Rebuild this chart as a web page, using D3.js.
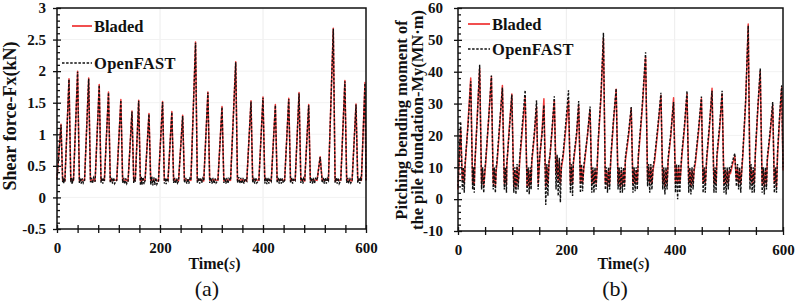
<!DOCTYPE html>
<html><head><meta charset="utf-8">
<script src="https://cdn.jsdelivr.net/npm/d3@7"></script>
<style>
body{margin:0;background:#fff}
svg{display:block}
text{font-family:"Liberation Serif","Times New Roman",serif}
</style>
</head><body>
<svg id="c" width="796" height="306"></svg>
<script>
// ---------- DATA ----------
const seriesNames = ["Bladed", "OpenFAST"];
const panelLabels = ["(a)", "(b)"];

// (a) Shear force Fx (kN) vs time (s)
const bladedFx = [[0,0.30],[7.8,1.16],[11,0.27],[13,0.28],[15.3,0.26],[23.3,1.88],[26.8,0.27],[29.5,0.28],[32,0.27],[40,2.0],[43.5,0.26],[48,0.28],[53.5,0.27],[61.5,1.89],[65,0.27],[70,0.28],[74,0.26],[82,1.79],[85.5,0.27],[89,0.28],[92,0.27],[100,1.67],[103.5,0.26],[110,0.28],[116,0.27],[124,1.55],[127.5,0.27],[133,0.28],[138,0.26],[145.6,1.37],[149,0.27],[152,0.27],[158.6,1.54],[162,0.26],[166,0.28],[171,0.27],[178.6,1.33],[182,0.27],[190,0.28],[197,0.26],[205,1.52],[208.5,0.27],[212,0.28],[215.5,0.27],[223,1.36],[226.5,0.27],[231,0.28],[236,0.26],[244,1.30],[247.5,0.27],[254,0.28],[260,0.27],[269,2.46],[272.5,0.27],[279,0.28],[285,0.26],[293,1.67],[296.5,0.27],[304,0.28],[312.5,0.27],[320.4,1.44],[324,0.26],[330,0.28],[337,0.27],[347,2.15],[350.5,0.27],[359,0.28],[368.5,0.26],[376.7,1.53],[380,0.27],[386,0.28],[392,0.27],[400,1.59],[403.5,0.27],[410,0.28],[416,0.26],[424,1.47],[427.5,0.27],[435,0.28],[442,0.27],[450,1.57],[453.5,0.26],[458,0.28],[462.5,0.27],[470,1.66],[473.5,0.27],[477,0.28],[481,0.26],[488.7,1.47],[492,0.27],[498,0.28],[505,0.27],[511,0.645],[515,0.27],[521,0.28],[527,0.27],[536.5,2.68],[540,0.26],[545.5,0.28],[551,0.27],[559,1.85],[562.5,0.27],[568,0.28],[573,0.26],[580.6,1.48],[584,0.27],[587.5,0.28],[591,0.27],[598,1.82],[600,0.27]];

const openfastFx = [[0,0.28],[7.8,1.15],[11,0.24],[12,0.31],[13,0.22],[14,0.30],[15.3,0.25],[23.3,1.87],[26.8,0.24],[28,0.31],[29.5,0.21],[31,0.30],[32,0.26],[40,1.99],[43.5,0.23],[45,0.31],[47,0.22],[49,0.30],[51,0.23],[53.5,0.27],[61.5,1.88],[65,0.24],[67,0.31],[69,0.22],[71,0.31],[74,0.25],[82,1.78],[85.5,0.23],[87,0.31],[89,0.22],[90.5,0.30],[92,0.26],[100,1.66],[103.5,0.23],[106,0.31],[108,0.22],[110,0.31],[112,0.22],[116,0.27],[124,1.54],[127.5,0.23],[129.5,0.31],[131.5,0.21],[133.5,0.30],[135.5,0.22],[138,0.26],[145.6,1.36],[149,0.23],[150.5,0.30],[152,0.25],[158.6,1.53],[162,0.19],[163.5,0.33],[165,0.20],[167,0.32],[169,0.21],[171,0.27],[178.6,1.32],[182,0.20],[184,0.33],[186,0.19],[188,0.32],[190,0.20],[192,0.31],[194,0.21],[197,0.26],[205,1.51],[208.5,0.22],[210,0.31],[212,0.21],[213.5,0.30],[215.5,0.27],[223,1.35],[226.5,0.23],[228.5,0.31],[230.5,0.22],[232.5,0.30],[234,0.23],[236,0.26],[244,1.29],[247.5,0.23],[250,0.31],[252,0.22],[254,0.30],[256,0.22],[258,0.30],[260,0.27],[269,2.45],[272.5,0.23],[275,0.31],[277,0.22],[279,0.31],[281,0.23],[283,0.30],[285,0.26],[293,1.66],[296.5,0.23],[299,0.31],[301,0.22],[303,0.31],[305,0.22],[307,0.30],[309,0.23],[312.5,0.27],[320.4,1.43],[324,0.23],[326,0.31],[328,0.22],[330,0.31],[332,0.22],[334,0.30],[337,0.27],[347,2.14],[350.5,0.23],[353,0.32],[355,0.22],[357,0.31],[359,0.22],[361,0.31],[363,0.22],[365,0.30],[368.5,0.26],[376.7,1.52],[380,0.23],[382,0.31],[384,0.22],[386,0.31],[388,0.23],[392,0.27],[400,1.58],[403.5,0.22],[405.5,0.32],[407.5,0.21],[409.5,0.31],[411.5,0.22],[413.5,0.30],[416,0.26],[424,1.46],[427.5,0.23],[429.5,0.31],[431.5,0.22],[433.5,0.31],[435.5,0.22],[437.5,0.30],[439.5,0.23],[442,0.27],[450,1.56],[453.5,0.23],[455.5,0.31],[457.5,0.22],[459.5,0.30],[462.5,0.27],[470,1.65],[473.5,0.23],[475.5,0.31],[477.5,0.22],[479,0.30],[481,0.26],[488.7,1.46],[492,0.23],[494,0.31],[496,0.22],[498,0.31],[500,0.22],[502,0.30],[505,0.27],[511,0.64],[515,0.23],[517,0.31],[519,0.22],[521,0.31],[523,0.22],[525,0.30],[527,0.27],[536.5,2.67],[540,0.23],[542,0.31],[544,0.22],[546,0.31],[548,0.22],[551,0.27],[559,1.84],[562.5,0.23],[564.5,0.31],[566.5,0.22],[568.5,0.31],[570.5,0.23],[573,0.26],[580.6,1.47],[584,0.23],[586,0.31],[588,0.22],[589.5,0.30],[591,0.27],[598,1.81],[600,0.27]];

// (b) Pitching bending moment My (MN·m) vs time (s)
const bladedMy = [[0,3],[2,12],[5,22],[8,6],[10,9],[11.5,5],[13,10],[18.5,24],[23.5,38],[27,5],[28.5,9],[30,4.5],[31,10],[35.5,26],[40,41],[43.5,5],[45.5,9],[47.5,4.5],[49.5,8],[51,11],[56.5,25],[61.7,38.5],[65,5],[67,9],[69,4],[70.5,9],[72,11],[77,23],[82,35.7],[85.5,5],[87.5,9],[89.5,4.5],[90,10],[94.5,22],[99.4,33],[103,4],[105,9],[107,4],[109,10],[111,5],[113,9],[114,12],[119,22],[124,32],[127.5,4],[129.5,9],[131.5,4],[133.5,9],[135,5],[136,11],[141,20],[145,29],[148,5],[150,10],[151,13],[155,21],[158.6,31.5],[162,4],[164,10],[166,5],[168,11],[170,14],[174,22],[177.8,31],[181,8],[183,13],[185,6],[187,12],[189,5],[191,10],[194,13],[199,22],[204,31],[207.5,5],[209.5,10],[211.5,5],[213,11],[215,14],[219,20],[222.8,29.5],[226,5],[228,10],[230,5],[232,9],[234,12],[239,20],[243.8,28],[247,5],[249,9],[251,5],[253,9],[255,5],[257,10],[259,18],[264,32],[268.5,50.5],[272,5],[274,9],[276,4],[278,9],[280,5],[282,12],[287,24],[292,34.5],[295.5,5],[297.5,9],[299.5,4],[301.5,9],[303.5,4],[305.5,9],[307.5,5],[309,12],[315,20],[319.8,28.5],[323,5],[325,9],[327,5],[329,9],[331,5],[333,13],[340,28],[346.3,44.5],[350,6],[352,10],[354,5],[356,10],[358,5],[360,9],[363,12],[369,22],[374.7,32.5],[378,5],[380,9],[382,4],[384,9],[386,5],[388,12],[393,20],[398,31.8],[401.5,5],[403.5,10],[405.5,5],[407.5,10],[409.5,5],[411.5,9],[413,13],[418,22],[422.8,33],[426,5],[428,9],[430,4],[432,9],[434,5],[436,9],[438,11],[444,21],[449.4,31.5],[452.5,5],[454.5,9],[456.5,5],[459,12],[464,22],[469,34.8],[472.5,5],[474.5,9],[476.5,5],[478,13],[483,22],[487.6,33],[491,5],[493,9],[495,5],[497,9],[499,5],[501,9],[503,8],[507,11],[511,13.5],[514,6],[516,10],[518,5],[520,9],[522,5],[524,9],[526,14],[531,30],[535.8,55],[539,6],[541,10],[543,5],[545,9],[547,5],[549,14],[553.5,28],[558,40],[561.5,5],[563.5,9],[565.5,4],[567.5,9],[569.5,5],[571,12],[576,20],[581,29.5],[584,5],[586,9],[588,4],[590,14],[594,26],[597.6,35],[600,9]];

const openfastMy = [[0,4],[2,13],[5,24.3],[8,3],[10,10],[11.5,2],[13,11],[18.5,23],[23.5,37],[27,3],[28.5,10],[30,2],[31,11],[35.5,25],[40,42.2],[43.5,3],[45.5,10],[47.5,2],[49.5,9],[51,12],[56.5,25],[61.7,38.8],[65,3],[67,10],[69,2],[70.5,10],[72,12],[77,24],[82,35],[85.5,3],[87.5,10],[89.5,2],[90,11],[94.5,21],[99.4,32.8],[103,2],[105,10],[107,1.5],[109,11],[111,3],[113,10],[114,13],[119,24],[124,34.2],[127.5,2],[129.5,10],[131.5,1.5],[133.5,10],[135,3],[136,12],[141,21],[145,31],[148,3],[150,11],[151,14],[155,20],[158.6,29.5],[162,-1.8],[164,11],[166,1],[168,12],[170,14],[174,23],[177.8,32.3],[181,3],[183,14],[185,1],[187,13],[189,-1],[191,11],[194,14],[199,24],[204,34.2],[207.5,2],[209.5,11],[211.5,1],[213,12],[215,15],[219,21],[222.8,30.8],[226,2],[228,11],[230,2.5],[232,10],[234,13],[239,20],[243.8,29.1],[247,2],[249,10],[251,2],[253,10],[255,3],[257,11],[259,19],[264,33],[268.5,52.2],[272,3],[274,10],[276,2],[278,10],[280,3],[282,13],[287,25],[292,34.7],[295.5,3],[297.5,10],[299.5,2],[301.5,10],[303.5,2],[305.5,10],[307.5,3],[309,13],[315,21],[319.8,28.9],[323,2],[325,10],[327,2.5],[329,10],[331,3],[333,14],[340,29],[346.3,46.1],[350,4],[352,11],[354,2],[356,11],[358,3],[360,10],[363,13],[369,23],[374.7,33.4],[378,3],[380,10],[382,1.5],[384,10],[386,3],[388,13],[393,21],[398,30.5],[401.5,2],[403.5,11],[405.5,0],[407.5,11],[409.5,2],[411.5,10],[413,14],[418,23],[422.8,34],[426,2],[428,10],[430,1.5],[432,10],[434,3],[436,10],[438,12],[444,22],[449.4,32.2],[452.5,2],[454.5,10],[456.5,2],[459,13],[464,23],[469,34],[472.5,2],[474.5,10],[476.5,2],[478,14],[483,23],[487.6,34],[491,2],[493,10],[495,1.5],[497,10],[499,3],[501,10],[503,9],[507,12],[511,14.4],[514,4],[516,11],[518,3],[520,10],[522,2],[524,10],[526,15],[531,31],[535.8,54.5],[539,3],[541,11],[543,2],[545,10],[547,2],[549,15],[553.5,29],[558,41],[561.5,2],[563.5,10],[565.5,1.5],[567.5,10],[569.5,3],[571,13],[576,21],[581,30.5],[584,2],[586,10],[588,2],[590,15],[594,27],[597.6,35.7],[600,10]];

// tick values / labels
const xLabelTicks = [0, 200, 400, 600];
const xMarkTicksA = [0,40,80,120,160,200,240,280,320,360,400,440,480,520,560,600];
const xMarkTicksB = [0,50,100,150,200,250,300,350,400,450,500,550,600];
const yTicksA = [-0.5,0,0.5,1,1.5,2,2.5,3];
const yTicksB = [-10,0,10,20,30,40,50,60];
const yTitleA = ["Shear force-Fx(kN)"];
const yTitleB = ["Pitching bending moment of", "the pile foundation-My(MN·m)"];

// ---------- DRAWING ----------
const svg = d3.select("#c");
const RED = "#f03c3c";

function drawPanel(o) {
  const x = d3.scaleLinear().domain([0, 600]).range([o.left, o.right]);
  const y = d3.scaleLinear().domain(o.yDomain).range([o.bottom, o.top]);
  const g = svg.append("g");

  // faint grid
  g.append("g").selectAll("line").data(xLabelTicks.slice(1, -1)).join("line")
    .attr("x1", d => x(d)).attr("x2", d => x(d)).attr("y1", o.top).attr("y2", o.bottom)
    .attr("stroke", "#ececec").attr("stroke-width", 1);
  g.append("g").selectAll("line").data(o.yTicks.slice(1, -1)).join("line")
    .attr("x1", o.left).attr("x2", o.right).attr("y1", d => y(d)).attr("y2", d => y(d))
    .attr("stroke", "#f2f2f2").attr("stroke-width", 1);

  // series
  const line = d3.line().x(d => x(d[0])).y(d => y(d[1]));
  g.append("path").datum(o.red).attr("d", line)
    .attr("fill", "none").attr("stroke", RED).attr("stroke-width", 1.5).attr("stroke-linejoin", "round");
  g.append("path").datum(o.black).attr("d", line)
    .attr("fill", "none").attr("stroke", "#111").attr("stroke-width", 1.4)
    .attr("stroke-dasharray", "2.5,1.6");

  // frame
  g.append("rect").attr("x", o.left).attr("y", o.top)
    .attr("width", o.right - o.left).attr("height", o.bottom - o.top)
    .attr("fill", "none").attr("stroke", "#111").attr("stroke-width", 1.5);

  const style = sel => {
    sel.select(".domain").remove();
    sel.selectAll("line").attr("stroke", "#111").attr("stroke-width", 1.3);
    sel.selectAll("text").attr("font-family", "'Liberation Serif','Times New Roman',serif")
      .attr("font-size", 15).attr("font-weight", "bold").attr("fill", "#111");
    sel.attr("font-family", null);
  };

  // y axis: major ticks crossing, minor inside, labels
  g.append("g").attr("transform", `translate(${o.left},0)`)
    .call(d3.axisLeft(y).tickValues(o.yTicks).tickSize(4).tickPadding(o.yPad).tickFormat(d => String(d)))
    .call(style);
  g.append("g").attr("transform", `translate(${o.left},0)`)
    .call(d3.axisRight(y).tickValues(o.yTicks).tickSize(4).tickFormat(""))
    .call(style);
  g.append("g").attr("transform", `translate(${o.left},0)`)
    .call(d3.axisRight(y).tickValues(o.yMinor).tickSize(3).tickFormat(""))
    .call(style);

  // x axis: crossing marks + labels
  g.append("g").attr("transform", `translate(0,${o.bottom})`)
    .call(d3.axisBottom(x).tickValues(o.xMarks).tickSize(4).tickFormat(""))
    .call(style);
  g.append("g").attr("transform", `translate(0,${o.bottom})`)
    .call(d3.axisTop(x).tickValues(o.xMarks).tickSize(4).tickFormat(""))
    .call(style);
  const xl = g.append("g").attr("transform", `translate(0,${o.bottom})`)
    .call(d3.axisBottom(x).tickValues(xLabelTicks).tickSize(0).tickPadding(13).tickFormat(d => String(d)))
    .call(style);
  xl.selectAll("line").remove();

  // x title
  const cx = (o.left + o.right) / 2;
  const tt = g.append("text").attr("x", cx + 3).attr("y", 269).attr("text-anchor", "middle")
    .attr("font-size", 16).attr("font-weight", "bold").attr("fill", "#111");
  tt.append("tspan").text("Time(");
  tt.append("tspan").attr("font-style", "italic").attr("font-weight", "normal").text("s");
  tt.append("tspan").text(")");

  // y title
  const cy = o.titleCY;
  o.yTitle.forEach((t, i) => {
    g.append("text").attr("transform", `translate(${o.yTitleX[i]},${cy}) rotate(-90)`)
      .attr("text-anchor", "middle").attr("dy", "0.35em")
      .attr("font-size", o.titleSize).attr("font-weight", "bold").attr("fill", "#111").text(t);
  });

  // panel label
  g.append("text").attr("x", o.labelX).attr("y", 296).attr("text-anchor", "middle")
    .attr("font-size", 22).attr("fill", "#111").text(o.label);

  // legend
  const L = o.legend;
  g.append("line").attr("x1", L.rx1).attr("x2", L.x2).attr("y1", L.y1).attr("y2", L.y1)
    .attr("stroke", RED).attr("stroke-width", 1.8);
  g.append("line").attr("x1", L.bx1).attr("x2", L.x2).attr("y1", L.y2).attr("y2", L.y2)
    .attr("stroke", "#111").attr("stroke-width", 1.6).attr("stroke-dasharray", "2.5,1.6");
  g.append("text").attr("x", L.x2 + 2).attr("y", L.y1 + 6).attr("font-size", 16.5)
    .attr("font-weight", "bold").attr("fill", "#111").text(seriesNames[0]);
  g.append("text").attr("x", L.x2 + 2).attr("y", L.y2 + 6).attr("font-size", 16.5)
    .attr("font-weight", "bold").attr("fill", "#111").attr("letter-spacing", 0.3).text(seriesNames[1]);
}

drawPanel({
  left: 57, right: 366, top: 8, bottom: 229,
  yDomain: [-0.5, 3], yTicks: yTicksA,
  yMinor: d3.range(-5, 31).map(i => i / 10).filter(v => Math.abs(v * 2 - Math.round(v * 2)) > 1e-6),
  xMarks: xMarkTicksA, yPad: 7,
  red: bladedFx, black: openfastFx,
  yTitle: yTitleA, yTitleX: [10], titleSize: 18, titleCY: 116,
  label: panelLabels[0], labelX: 207,
  legend: { rx1: 72, bx1: 62, x2: 92, y1: 26, y2: 63 }
});

drawPanel({
  left: 458, right: 783, top: 8, bottom: 231,
  yDomain: [-10, 60], yTicks: yTicksB,
  yMinor: d3.range(-10, 61, 2).filter(v => v % 10 !== 0),
  xMarks: xMarkTicksB, yPad: 11,
  red: bladedMy, black: openfastMy,
  yTitle: yTitleB, yTitleX: [401, 417.5], titleSize: 16.5, titleCY: 120,
  label: panelLabels[1], labelX: 615,
  legend: { rx1: 468, bx1: 468, x2: 490, y1: 24, y2: 49 }
});
</script>
</body></html>
